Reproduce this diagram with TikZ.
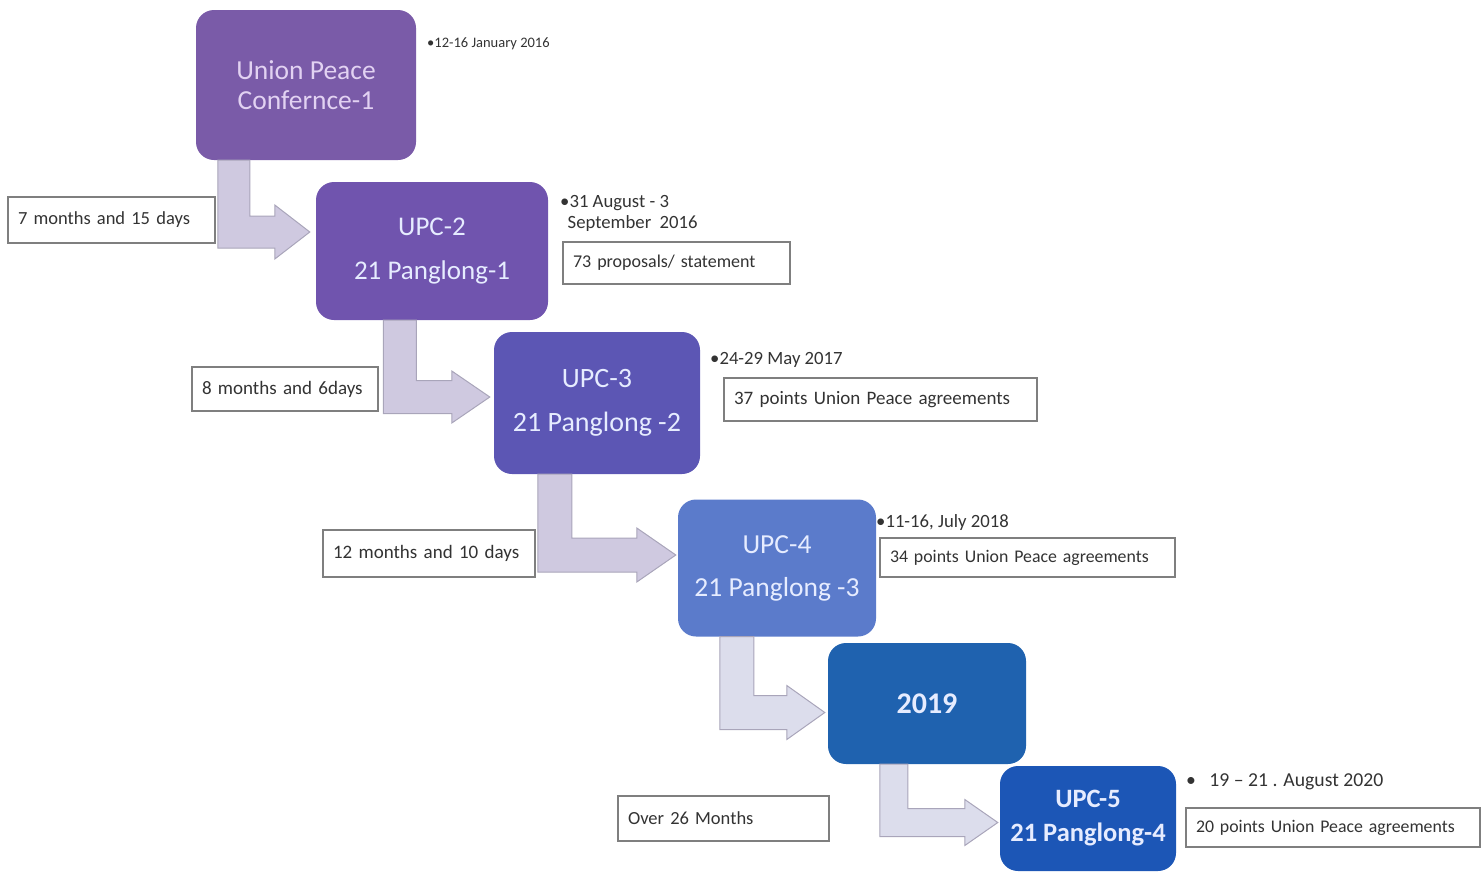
\documentclass[tikz,border=0pt]{standalone}
\usepackage{fontspec}
\setmainfont{Carlito}
\usetikzlibrary{calc}
\definecolor{cA}{HTML}{7A5BA8}
\definecolor{cB}{HTML}{7054AE}
\definecolor{cC}{HTML}{5C56B4}
\definecolor{cD}{HTML}{5B7BCB}
\definecolor{cE}{HTML}{1F62AF}
\definecolor{cF}{HTML}{1C56B6}
\definecolor{tA}{HTML}{E2D2F2}
\definecolor{tB}{HTML}{E6ECFF}
\definecolor{arrF}{HTML}{CFC9E0}
\definecolor{arrG}{HTML}{DCDDEC}
\definecolor{arrE}{HTML}{A9A5BA}
\definecolor{lblE}{HTML}{7F7F7F}
\tikzset{
  x=1pt, y=-1pt,
  stage/.style={rounded corners=18pt, inner sep=0pt, align=center, text=tB},
  arr/.style={fill=arrF, draw=arrE, line width=1pt},
  lbl/.style={draw=lblE, fill=white, line width=1.3pt, inner xsep=10pt, inner ysep=0pt, align=left, text=black!80, font=\fontsize{19}{21}\selectfont},
  datetxt/.style={anchor=west, inner sep=0pt, align=left, text=black!80, font=\fontsize{18.7}{21}\selectfont}
}
\newcommand\bentarrow[6][arrF]{\path[arr, fill=#1] let \p1=#2, \p2=#3 in
  (\x1-#4pt,\y1) -- (\x1-#4pt,\y2-#4pt) -- (\x2-#6pt,\y2-#4pt) -- (\x2-#6pt,\y2-#5pt) -- (\x2,\y2)
  -- (\x2-#6pt,\y2+#5pt) -- (\x2-#6pt,\y2+#4pt) -- (\x1+#4pt,\y2+#4pt) -- (\x1+#4pt,\y1) -- cycle;}
\begin{document}
\begin{tikzpicture}
\useasboundingbox (0,0) rectangle (1483,871);
% stages
\node[stage, fill=cA, text=tA, minimum width=220pt, minimum height=150pt, font=\fontsize{27.5}{30}\selectfont] (u1) at (306,85) {Union Peace\\Confernce-1};
\node[stage, fill=cB, minimum width=232pt, minimum height=138pt, font=\fontsize{27}{44}\selectfont] (u2) at (432,251) {UPC-2\\21 Panglong-1};
\node[stage, fill=cC, minimum width=206pt, minimum height=142pt, font=\fontsize{28}{44}\selectfont] (u3) at (597,403) {UPC-3\\21 Panglong -2};
\node[stage, fill=cD, minimum width=198pt, minimum height=137pt, font=\fontsize{27.5}{43}\selectfont] (u4) at (777,568) {UPC-4\\21 Panglong -3};
\node[stage, fill=cE, minimum width=198pt, minimum height=121pt, font=\bfseries\fontsize{30}{34}\selectfont] (u5) at (927,703.5) {2019};
\node[stage, fill=cF, minimum width=176pt, minimum height=105pt, font=\bfseries\fontsize{26.5}{34}\selectfont] (u6) at (1088,818.5) {UPC-5\\21 Panglong-4};
% bent arrows
\bentarrow{($(u1.south west)+(38,0)$)}{($(u2.west)+(-6,-19)$)}{16}{27}{35}
\bentarrow{($(u2.south west)+(84,0)$)}{($(u3.west)+(-4,-6)$)}{16.5}{26}{38}
\bentarrow{($(u3.south west)+(61,0)$)}{($(u4.west)+(-2,-13)$)}{17}{27}{39}
\bentarrow[arrG]{($(u4.south west)+(59,0)$)}{($(u5.west)+(-3,9)$)}{17}{27}{38}
\bentarrow[arrG]{($(u5.south west)+(66,0)$)}{($(u6.west)+(-2,4)$)}{14}{23}{33}
% duration labels
\node[lbl, text width=187pt, minimum height=46pt, font=\fontsize{18.5}{21}\selectfont] (d1) at (111.5,220) {7 months and 15 days};
\node[lbl, text width=166pt, minimum height=44pt] (d2) at (285,389) {8 months and 6days};
\node[lbl, text width=192pt, minimum height=47pt] (d3) at (429,553.5) {12 months and 10 days};
\node[lbl, text width=191pt, minimum height=45pt, font=\fontsize{18.5}{21}\selectfont] (d4) at (723.5,818.5) {Over 26 Months};
% outcome labels
\node[lbl, text width=207pt, minimum height=42pt, font=\fontsize{18}{20}\selectfont] (o2) at (676.5,263) {73 proposals/ statement};
\node[lbl, text width=293pt, minimum height=43pt, font=\fontsize{19}{21}\selectfont] (o3) at (880.5,399.5) {37 points Union Peace agreements};
\node[lbl, text width=275pt, minimum height=39pt, font=\fontsize{17.8}{20}\selectfont] (o4) at (1027.5,557.5) {34 points Union Peace agreements};
\node[lbl, text width=274pt, minimum height=39pt, font=\fontsize{17.8}{20}\selectfont] (o6) at (1333,827.5) {20 points Union Peace agreements};
% dates
\node[datetxt, font=\fontsize{14.5}{16}\selectfont] (t1) at (427,44) {\textbullet12-16 January 2016};
\node[datetxt] (t2) at (560,213) {\textbullet31 August - 3\\\hspace*{0.4em}September\ \ 2016};
\node[datetxt] (t3) at (710,360) {\textbullet24-29 May 2017};
\node[datetxt] (t4) at (876,523) {\textbullet11-16, July 2018};
\node[datetxt, font=\fontsize{19.7}{22}\selectfont] (t6) at (1186,782) {\textbullet\ \ \ 19 -- 21 . August 2020};
\end{tikzpicture}
\end{document}
